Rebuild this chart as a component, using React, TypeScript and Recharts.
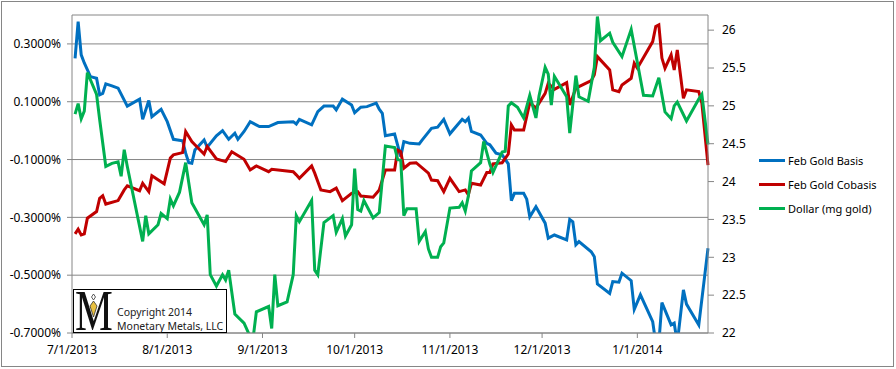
import { LineChart, Line, XAxis, YAxis, CartesianGrid } from "recharts";

// x positions are days since 7/1/2013
const monthTicks = [0, 31, 62, 92, 123, 153, 184];
const monthLabels = ["7/1/2013", "8/1/2013", "9/1/2013", "10/1/2013", "11/1/2013", "12/1/2013", "1/1/2014"];

const basisTicks = [-0.7, -0.5, -0.3, -0.1, 0.1, 0.3];
const dollarTicks = [22, 22.5, 23, 23.5, 24, 24.5, 25, 25.5, 26];

const basisDays = [
  1, 2, 3, 4, 6, 8, 9, 10, 11, 13, 15, 18, 22, 23, 25, 26, 29, 31, 33, 36, 37, 38, 39, 40, 43, 44, 47, 49, 51, 53,
  54, 56, 58, 61, 64, 67, 72, 73, 74, 78, 80, 82, 85, 86, 88, 91, 92, 94, 96, 99, 100, 101, 102, 105, 107, 108, 110,
  113, 114, 117, 119, 121, 123, 127, 128, 129, 130, 133, 135, 136, 138, 140, 142, 143, 144, 147, 148, 149, 151, 154,
  155, 157, 161, 162, 163, 164, 165, 169, 170, 171, 175, 176, 178, 179, 182, 183, 185, 189, 190, 191, 192, 195, 196,
  197, 199, 200, 204, 207,
];
const basisValues = [
  0.25, 0.377, 0.262, 0.234, 0.187, 0.181, 0.124, 0.129, 0.162, 0.155, 0.147, 0.085, 0.109, 0.039, 0.104, 0.048,
  0.074, 0.031, -0.03, -0.035, -0.078, -0.111, -0.113, -0.067, -0.032, -0.057, -0.018, 0.0, -0.03, -0.009, -0.03,
  -0.003, 0.031, 0.014, 0.014, 0.028, 0.031, 0.023, 0.039, 0.02, 0.066, 0.085, 0.085, 0.072, 0.109, 0.089, 0.062,
  0.081, 0.083, 0.095, 0.074, 0.06, -0.018, -0.012, -0.09, -0.038, -0.044, -0.046, -0.032, 0.008, 0.012, 0.039,
  -0.011, 0.039, 0.031, 0.043, -0.003, -0.015, -0.044, -0.049, -0.078, -0.084, -0.115, -0.242, -0.217, -0.217,
  -0.237, -0.298, -0.263, -0.32, -0.372, -0.361, -0.378, -0.307, -0.315, -0.395, -0.384, -0.419, -0.436, -0.53,
  -0.563, -0.522, -0.524, -0.493, -0.519, -0.618, -0.568, -0.661, -0.735, -0.735, -0.595, -0.672, -0.666, -0.735,
  -0.551, -0.6, -0.672, -0.407,
];

const cobasisDays = [
  1, 2, 3, 4, 5, 8, 9, 10, 11, 15, 17, 18, 22, 23, 25, 26, 30, 32, 33, 36, 37, 39, 40, 43, 44, 47, 50, 52, 56, 58, 60,
  64, 65, 72, 73, 74, 78, 79, 81, 84, 86, 88, 91, 93, 94, 98, 100, 102, 105, 106, 107, 108, 110, 112, 116, 117, 119,
  121, 123, 126, 128, 129, 130, 133, 135, 136, 137, 140, 142, 143, 144, 147, 149, 151, 154, 155, 157, 161, 162, 164,
  169, 170, 171, 175, 176, 178, 179, 182, 183, 184, 189, 190, 191, 192, 193, 195, 196, 197, 199, 200, 204, 205, 207,
];
const cobasisValues = [
  -0.357, -0.341, -0.361, -0.357, -0.303, -0.28, -0.234, -0.225, -0.254, -0.242, -0.205, -0.191, -0.208, -0.182,
  -0.211, -0.156, -0.184, -0.095, -0.084, -0.076, -0.003, -0.038, -0.049, -0.081, -0.055, -0.098, -0.107, -0.073,
  -0.099, -0.136, -0.122, -0.142, -0.134, -0.142, -0.153, -0.165, -0.122, -0.147, -0.205, -0.211, -0.199, -0.242,
  -0.217, -0.211, -0.226, -0.23, -0.205, -0.136, -0.136, -0.067, -0.073, -0.13, -0.113, -0.111, -0.147, -0.171,
  -0.173, -0.211, -0.165, -0.211, -0.205, -0.222, -0.182, -0.188, -0.145, -0.145, -0.115, -0.111, -0.081, 0.02,
  0.002, 0.002, 0.097, 0.078, 0.129, 0.164, 0.143, 0.166, 0.089, 0.147, 0.173, 0.193, 0.256, 0.21, 0.141, 0.135,
  0.158, 0.181, 0.233, 0.216, 0.308, 0.36, 0.366, 0.251, 0.216, 0.262, 0.21, 0.279, 0.112, 0.141, 0.135, 0.095,
  -0.119,
];

const dollarDays = [
  1, 2, 3, 4, 5, 8, 9, 11, 13, 15, 16, 17, 18, 23, 24, 25, 28, 29, 31, 32, 33, 35, 37, 39, 43, 44, 45, 47, 49, 50, 51,
  53, 56, 58, 59, 60, 64, 65, 66, 67, 70, 72, 73, 74, 78, 79, 80, 82, 85, 86, 88, 89, 91, 92, 93, 94, 95, 98, 100, 102,
  105, 106, 107, 108, 109, 112, 113, 115, 116, 117, 119, 120, 121, 123, 126, 127, 128, 129, 130, 133, 134, 136, 137,
  140, 141, 142, 143, 145, 147, 149, 151, 152, 154, 155, 156, 157, 161, 162, 164, 165, 168, 170, 171, 172, 175, 176,
  179, 182, 186, 189, 191, 193, 195, 196, 197, 200, 204, 205, 207,
];
const dollarValues = [
  24.89, 25.03, 24.83, 24.93, 25.44, 25.15, 24.82, 24.2, 24.24, 24.26, 24.07, 24.42, 24.2, 23.21, 23.55, 23.31, 23.43,
  23.58, 23.51, 23.77, 23.68, 23.86, 24.25, 23.72, 23.43, 23.56, 22.77, 22.62, 22.77, 22.7, 22.83, 22.25, 22.13,
  21.95, 21.95, 22.28, 22.35, 22.06, 22.77, 22.36, 22.41, 22.77, 23.55, 23.47, 23.75, 22.83, 22.77, 23.46, 23.55,
  23.33, 23.51, 23.28, 23.43, 24.17, 23.63, 23.61, 23.75, 23.52, 23.59, 24.47, 24.45, 24.29, 24.28, 23.55, 23.64,
  23.64, 23.21, 23.34, 23.11, 23.0, 23.0, 23.14, 23.19, 23.65, 23.66, 23.72, 23.61, 23.81, 24.14, 24.25, 24.53,
  24.23, 24.12, 24.39, 24.4, 25.0, 25.04, 24.98, 24.84, 25.14, 24.84, 25.13, 25.51, 25.42, 25.01, 25.39, 25.12,
  24.64, 25.4, 25.12, 25.06, 25.51, 26.18, 25.86, 25.96, 25.84, 25.65, 26.01, 25.14, 25.13, 25.37, 24.92, 24.83,
  25.0, 25.05, 24.8, 25.09, 25.15, 24.49,
];

const SERIES = [
  { name: "Feb Gold Basis", color: "#0070C0" },
  { name: "Feb Gold Cobasis", color: "#C00000" },
  { name: "Dollar (mg gold)", color: "#00B050" },
];

const toPoints = (days: number[], values: number[]) => days.map((day, i) => ({ day, value: values[i] }));

const basisData = toPoints(basisDays, basisValues);
const cobasisData = toPoints(cobasisDays, cobasisValues);
const dollarData = toPoints(dollarDays, dollarValues);

const AXIS = "#868686";
const FONT = "'Noto Sans', sans-serif";
const tickStyle = { fill: "#000", fontSize: 12, fontFamily: FONT };

function Logo() {
  return (
    <svg width={896} height={369} style={{ position: "absolute", left: 0, top: 0, pointerEvents: "none" }}>
      <rect x={73.5} y={289.5} width={153} height={43} fill="#fff" stroke="#000" strokeWidth={1} />
      <text
        x={0}
        y={0}
        transform="translate(75,330) scale(0.76,1)"
        fontFamily="'Liberation Serif', serif"
        fontSize={56}
        fill="#111"
      >
        M
      </text>
      <polygon points="93.5,294 95.5,297 93.5,300 91.5,297" fill="#fff" stroke="#333" strokeWidth={0.8} />
      <polygon points="93.5,301 97,306 93.5,317 90,306" fill="#E8C040" stroke="#333" strokeWidth={0.8} />
      <text x={117} y={316} fontFamily={FONT} fontSize={10.5} fill="#222">
        Copyright 2014
      </text>
      <text x={117} y={330} fontFamily={FONT} fontSize={10.5} fill="#222">
        Monetary Metals, LLC
      </text>
    </svg>
  );
}

export default function App() {
  return (
    <div style={{ position: "absolute", left: 0, top: 0, width: 896, height: 369, background: "#fff" }}>
      <LineChart width={896} height={369} margin={{ top: 15, right: 0, bottom: 6, left: 0 }}>
        <CartesianGrid yAxisId="left" vertical={false} stroke={AXIS} strokeWidth={1} />
        <XAxis
          dataKey="day"
          type="number"
          domain={[0, 207]}
          ticks={monthTicks}
          tickFormatter={(v: number) => monthLabels[monthTicks.indexOf(v)]}
          height={30}
          tickSize={5}
          tickMargin={7}
          stroke={AXIS}
          tick={tickStyle}
          interval={0}
          allowDuplicatedCategory={false}
        />
        <YAxis
          yAxisId="left"
          width={72}
          domain={[-0.7, 0.4]}
          ticks={basisTicks}
          tickFormatter={(v: number) => `${v.toFixed(4)}%`}
          allowDataOverflow
          tickSize={5}
          tickMargin={6}
          stroke={AXIS}
          tick={tickStyle}
          interval={0}
        />
        <YAxis
          yAxisId="right"
          orientation="right"
          width={188}
          domain={[22, 26.2]}
          ticks={dollarTicks}
          allowDataOverflow
          tickSize={6}
          tickMargin={8}
          stroke={AXIS}
          tick={tickStyle}
          interval={0}
        />
        <Line
          data={basisData}
          yAxisId="left"
          dataKey="value"
          name={SERIES[0].name}
          stroke={SERIES[0].color}
          strokeWidth={3}
          dot={false}
          isAnimationActive={false}
        />
        <Line
          data={cobasisData}
          yAxisId="left"
          dataKey="value"
          name={SERIES[1].name}
          stroke={SERIES[1].color}
          strokeWidth={3}
          dot={false}
          isAnimationActive={false}
        />
        <Line
          data={dollarData}
          yAxisId="right"
          dataKey="value"
          name={SERIES[2].name}
          stroke={SERIES[2].color}
          strokeWidth={3}
          dot={false}
          isAnimationActive={false}
        />
      </LineChart>
      <div
        style={{
          position: "absolute",
          left: 1,
          top: 1,
          width: 891,
          height: 364,
          border: `1px solid ${AXIS}`,
          pointerEvents: "none",
        }}
      />
      <Logo />
      <div style={{ position: "absolute", left: 759, top: 148, fontFamily: FONT, fontSize: 11, color: "#000" }}>
        {SERIES.map((s) => (
          <div key={s.name} style={{ display: "flex", alignItems: "center", height: 24, whiteSpace: "nowrap" }}>
            <div style={{ width: 26, height: 3, background: s.color, marginRight: 3 }} />
            <span>{s.name}</span>
          </div>
        ))}
      </div>
    </div>
  );
}
